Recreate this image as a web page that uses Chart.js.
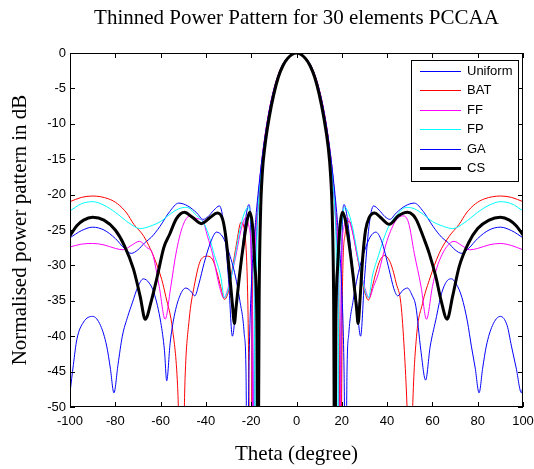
<!DOCTYPE html>
<html>
<head>
<meta charset="utf-8">
<script src="https://cdn.jsdelivr.net/npm/chart.js@4.4.1/dist/chart.umd.min.js"></script>
<style>
html,body{margin:0;padding:0;background:#fff;}
#c{display:block;}
</style>
</head>
<body>
<canvas id="c" width="534" height="469"></canvas>
<script>
const chartTitle = 'Thinned Power Pattern for 30 elements PCCAA';
const xTitle = 'Theta (degree)';
const yTitle = 'Normalised power pattern in dB';
const seriesNames = ['Uniform', 'BAT', 'FF', 'FP', 'GA', 'CS'];
const xTickValues = [-100, -80, -60, -40, -20, 0, 20, 40, 60, 80, 100];
const yTickValues = [0, -5, -10, -15, -20, -25, -30, -35, -40, -45, -50];

const uniformTheta = [-100,-95,-90,-85,-80,-76,-73,-70,-67,-64, -60.3,-56,-52,-48,-44,-41.2,-39,-36.5,-34,-32, -30,-28.3,-26.5,-24.5,-22.5,-21,-19.9,-19.2,-18.5,-17.5, -16,-14,-12,-10,-8,-6,-4,-2, 0, 2,4,6,8,10,12,14,16,17.5, 18.5,19.2,19.9,21,22.5,24.5,26.5,28.3,30,32, 34,36.5,39,41.2,44,48,52,56,60.3,64, 67,70,73,76,80,85,90,95,100];
const uniformDb = [-26.1,-25.1,-24.6,-25,-26.2,-27.6,-28.3,-27.8,-26.8,-26, -24.5,-22.4,-21.2,-21.6,-22.6,-23.5,-23.1,-22.2,-21.6,-24.5, -32,-40,-35,-29.5,-23.5,-21.4,-30,-65,-35,-25, -18,-12.3,-8.3,-5.3,-3.1,-1.6,-0.7,-0.2, 0, -0.2,-0.7,-1.6,-3.1,-5.3,-8.3,-12.3,-18,-25, -35,-65,-30,-21.4,-23.5,-29.5,-35,-40,-32,-24.5, -21.6,-22.2,-23.1,-23.5,-22.6,-21.6,-21.2,-22.4,-24.5,-26, -26.8,-27.8,-28.3,-27.6,-26.2,-25,-24.6,-25.1,-26.1];

const batTheta = [-100,-95,-90,-83,-79,-75,-71.8,-67.4,-63,-59.5, -57.7,-54.7,-52.5,-50.6,-49.2,-47.4,-45.2,-42.2,-39.3,-37, -35,-33.5,-31.8,-29.9,-28.2,-26.5,-24.5,-22.8,-21.5,-20.2, -19.4,-17.5,-16,-14,-12,-10,-8,-6,-4,-2, 0, 2,4,6,8,10,12,14,16,17.5, 18.6,19.5,20.3,21.5,23.3,25,26.9,28.5,29.9,31.8, 33.5,35,37,39,41,42.5,44,46.1,47.6,48.8, 50.2,51.4,53,55.6,58.6,63,67.4,71.8,75,79, 83,90,95,100];
const batDb = [-21.0,-20.4,-20.2,-20.6,-21.3,-22.6,-24.2,-25.9,-28.8,-32, -34.4,-39.1,-47,-65,-46,-37.7,-33,-29.2,-28.7,-29.2, -31.1,-33,-34.8,-33.5,-30.2,-27,-23.9,-25.5,-35,-65, -33,-23.5,-17.3,-11.9,-8.0,-5.1,-3.0,-1.6,-0.7,-0.2, 0, -0.2,-0.7,-1.6,-3.0,-5.1,-8.0,-11.9,-17.3,-23.5, -32,-65,-33,-25.5,-23.8,-25.6,-28.8,-31.5,-33.5,-34.9, -33,-31.1,-29.2,-28.6,-29.3,-30.6,-32.5,-35.4,-42,-50, -65,-49,-40,-35.4,-32.1,-28.3,-25.9,-24.2,-22.6,-21.3, -20.6,-20.2,-20.4,-21.0];

const ffTheta = [-100,-95,-90,-85,-80,-76.5,-73,-69.4,-66,-63.6, -60.6,-58,-55.5,-53.2,-50.3,-47,-44,-41.5,-39.3,-37.1, -34,-32.1,-30,-27,-24.5,-22.5,-21,-19.8,-19.1,-18.4, -17.3,-16,-14,-12,-10,-8,-6,-4,-2, 0, 2,4,6,8,10,12,14,16,17.3, 18.4,19.1,19.8,21,22.5,24.5,27,30,32.1,34, 36.2,38,40,42,44,47,49.5,52,55,57.4, 60,62,63.8,66,69.5,73,76.5,80,85,90, 95,100];
const ffDb = [-27.4,-27.0,-26.9,-27.1,-27.6,-27.8,-27.2,-26.6,-27.5,-28.3, -33,-37.6,-33,-28.3,-24.5,-23.0,-23.4,-23.6,-25.9,-28.3, -33,-34.6,-33,-29,-25,-23.3,-24.5,-31,-65,-31, -22.5,-17.3,-11.9,-8.0,-5.1,-3.0,-1.6,-0.7,-0.2, 0, -0.2,-0.7,-1.6,-3.0,-5.1,-8.0,-11.9,-17.3,-22.5, -31,-65,-31,-24.5,-23.3,-25,-29,-33,-34.6,-33, -31.1,-28.8,-26.5,-24.8,-23.6,-23.0,-24,-28.3,-33,-37.6, -33,-30.3,-28.8,-27.5,-26.6,-27.2,-27.8,-27.6,-27.1,-26.9, -27.2,-27.8];

const fpTheta = [-100,-95,-90,-85,-80,-74,-69,-65,-60,-56, -52,-48.5,-44,-41,-39,-36.2,-33.5,-31.8,-30.6,-29, -27,-25,-23,-21.3,-19.8,-18.7,-18.1,-17.6,-17,-16, -14,-12,-10,-8,-6,-4,-2, 0, 2,4,6,8,10,12,14,16,17, 17.6,18.1,18.7,19.8,21.3,23,25,27,29,30.6, 31.8,33.5,36.2,39,41,44,48.5,52,56,60, 65,69,74,80,85,90,95,100];
const fpDb = [-22.3,-21.3,-21.0,-21.5,-22.5,-24.0,-24.8,-24.5,-23.8,-22.8, -22.0,-21.8,-23.0,-24.0,-25.5,-28.6,-31.5,-34.6,-33.9,-32, -28.5,-25,-22.6,-21.8,-24.5,-33,-65,-30,-22.5,-17.8, -12.3,-8.3,-5.3,-3.1,-1.6,-0.7,-0.2, 0, -0.2,-0.7,-1.6,-3.1,-5.3,-8.3,-12.3,-17.8,-22.5, -30,-65,-33,-24.5,-21.8,-22.6,-25,-28.5,-32,-33.9, -34.6,-31.5,-28.6,-25.8,-24.3,-23.0,-21.8,-22.0,-22.8,-23.8, -24.5,-24.8,-24.0,-22.5,-21.5,-21.0,-21.3,-22.3];

const gaTheta = [-100,-98.5,-97,-94,-90,-86.5,-83.8,-82.2,-80.6,-78.8, -76.9,-74.5,-72.5,-70,-67.6,-65,-62.9,-59.9,-58.3,-57.3, -55.8,-54,-51.5,-48.9,-46.8,-44.9,-43,-40.8,-38,-35.3, -32.5,-30,-27,-25,-23.1,-22.3,-21.7,-21,-19.8,-18, -16,-14,-12,-10,-8,-6,-4,-2, 0, 2,4,6,8,10,12,14,16,18,19.8, 21,21.7,22.3,23.1,25,27,30,32.5,35,37.5, 40.9,43,44.7,47,49,51,52.7,54.9,57,59, 61.5,64,66.7,68.4,70.5,73,75.5,77.2,78.9,80.6, 82.2,83.8,86.5,90,93,94.9,97,99.3,100];
const gaDb = [-48,-44,-40.5,-38,-37.2,-38.5,-41.4,-44.5,-48,-44, -40,-37.2,-35.3,-33,-31.9,-32.5,-33.9,-38.1,-42,-46.3, -41,-37.2,-34.3,-33.2,-33.6,-34.3,-32.5,-29.7,-26.8,-25.3, -26,-28,-31.5,-35,-39.6,-45,-65,-45,-32,-23.5, -17,-12,-8.1,-5.2,-3.1,-1.6,-0.7,-0.2, 0, -0.2,-0.7,-1.6,-3.1,-5.2,-8.1,-12,-17,-23.5,-32, -45,-65,-45,-39.6,-35,-31.5,-28,-26,-25.3,-26.5, -30.6,-33.3,-34.3,-33.5,-33.2,-34.2,-35.8,-42,-46.2,-41.5, -37.7,-34,-32.1,-31.9,-32.6,-34.5,-38,-41.4,-44.5,-48, -44.5,-41.4,-38.5,-37.2,-38.5,-41.4,-44.5,-48,-47];

const csTheta = [-100,-97,-94,-90,-85,-80,-76,-72,-69,-66.8, -64,-61.5,-58.6,-56,-53,-49.5,-46,-42,-38,-35, -32.5,-31,-29.6,-28.3,-27.4,-26.7,-25.2,-23.2,-21.7,-20.6, -19.4,-18.4,-17.5,-17.0,-16.5,-15.9,-15.1,-14,-12,-10, -8,-6,-4,-2, 0, 2,4,6,8,10,12,14,15,15.8,16.4, 16.9,17.4,18.2,19.2,20.3,21.5,23,25,26.5,27.2, 28,29.2,30.5,32,34.5,37,41,45,49,51.5, 53,56,58.6,61.5,63.8,66.5,68.9,71.8,76,80, 85,90,94,97,100];
const csDb = [-25.8,-24.4,-23.6,-23.2,-23.6,-25.0,-27.2,-30.5,-34.4,-37.6, -34.9,-31.6,-27.5,-25.6,-23.4,-22.5,-23.2,-24.1,-23.2,-22.6, -23.6,-26.5,-31,-35.5,-38.2,-36,-31.5,-26.5,-23.5,-22.5, -24.5,-30,-38,-65,-35,-23,-17,-13.3,-9.0,-5.8, -3.4,-1.8,-0.8,-0.2, 0, -0.2,-0.8,-1.8,-3.4,-5.8,-9.0,-13.3,-17,-23,-35, -65,-38,-30,-24.5,-22.5,-23.5,-26.5,-31.5,-36,-38.2, -35,-29,-25,-23.3,-22.6,-23.2,-24.2,-23,-22.5,-22.9, -23.6,-26,-28.3,-31.6,-34.9,-37.6,-34.4,-30.2,-26.8,-24.8, -23.6,-23.2,-23.6,-24.4,-25.7];

const seriesTheta = [uniformTheta, batTheta, ffTheta, fpTheta, gaTheta, csTheta];
const seriesDb = [uniformDb, batDb, ffDb, fpDb, gaDb, csDb];
const seriesColors = ['#0000ff', '#ff0000', '#ff00ff', '#00ffff', '#0000ff', '#000000'];
const seriesWidths = [1, 1, 1, 1, 1, 3];

const SERIF = '"Liberation Serif", "Times New Roman", Times, serif';
const SANS = '"Liberation Sans", Arial, Helvetica, sans-serif';

const datasets = seriesNames.map((name, i) => ({
  label: name,
  data: seriesTheta[i].map((t, k) => ({ x: t, y: seriesDb[i][k] })),
  borderColor: seriesColors[i],
  backgroundColor: seriesColors[i],
  borderWidth: seriesWidths[i],
  pointRadius: 0,
  pointHoverRadius: 0,
  fill: false,
  cubicInterpolationMode: 'monotone',
  order: seriesNames.length - i
}));

const framePlugin = {
  id: 'frameAndLegend',
  afterDatasetsDraw(chart) {
    const { ctx, chartArea: ca, scales } = chart;
    const xs = scales.x, ys = scales.y;
    ctx.save();
    // title centred over the axes
    ctx.fillStyle = '#000';
    ctx.font = '21px ' + SERIF;
    ctx.textAlign = 'center';
    ctx.textBaseline = 'middle';
    ctx.fillText(chartTitle, (ca.left + ca.right) / 2, 18);

    // axes box
    ctx.strokeStyle = '#000';
    ctx.lineWidth = 1;
    ctx.strokeRect(Math.round(ca.left) + 0.5, Math.round(ca.top) + 0.5,
                   Math.round(ca.width) - 1, Math.round(ca.height) - 1);
    // inward ticks
    const tl = 5;
    ctx.beginPath();
    xs.ticks.forEach(t => {
      const px = Math.round(xs.getPixelForValue(t.value)) + 0.5;
      ctx.moveTo(px, ca.bottom); ctx.lineTo(px, ca.bottom - tl);
      ctx.moveTo(px, ca.top); ctx.lineTo(px, ca.top + tl);
    });
    ys.ticks.forEach(t => {
      const py = Math.round(ys.getPixelForValue(t.value)) + 0.5;
      ctx.moveTo(ca.left, py); ctx.lineTo(ca.left + tl, py);
      ctx.moveTo(ca.right, py); ctx.lineTo(ca.right - tl, py);
    });
    ctx.stroke();

    // legend box
    const bw = 107, bh = 121;
    const bx = Math.round(ca.right) - 5 - bw;
    const by = Math.round(ca.top) + 7;
    ctx.fillStyle = '#fff';
    ctx.fillRect(bx, by, bw, bh);
    ctx.strokeStyle = '#000';
    ctx.lineWidth = 1;
    ctx.strokeRect(bx + 0.5, by + 0.5, bw, bh);
    ctx.font = '13px ' + SANS;
    ctx.textBaseline = 'middle';
    ctx.textAlign = 'left';
    chart.data.datasets.forEach((ds, i) => {
      const ry = Math.round(by + 11 + i * 19.45);
      const off = ds.borderWidth % 2 === 1 ? 0.5 : 0;
      ctx.beginPath();
      ctx.strokeStyle = ds.borderColor;
      ctx.lineWidth = ds.borderWidth;
      ctx.moveTo(bx + 9, ry + off);
      ctx.lineTo(bx + 50, ry + off);
      ctx.stroke();
      ctx.fillStyle = '#000';
      ctx.fillText(ds.label, bx + 56, ry + 0.5);
    });
    ctx.restore();
  }
};

new Chart(document.getElementById('c'), {
  type: 'line',
  data: { datasets },
  options: {
    responsive: false,
    animation: false,
    devicePixelRatio: 1,
    layout: { padding: { left: 0, right: 11, top: 53, bottom: 0 } },
    plugins: {
      legend: { display: false },
      tooltip: { enabled: false },
      title: { display: false }
    },
    scales: {
      x: {
        type: 'linear',
        min: -100,
        max: 100,
        afterBuildTicks: s => { s.ticks = xTickValues.map(v => ({ value: v })); },
        afterFit: s => { s.height = 62; s.paddingLeft = 0; s.paddingRight = 0; },
        grid: { display: false, drawTicks: false },
        border: { display: false },
        ticks: { color: '#000', font: { family: SANS, size: 13 }, padding: 6.5, maxRotation: 0, autoSkip: false },
        title: { display: true, text: xTitle, color: '#000', font: { family: SERIF, size: 21 }, padding: { top: 0, bottom: 1.5 } }
      },
      y: {
        type: 'linear',
        min: -50,
        max: 0,
        afterBuildTicks: s => { s.ticks = yTickValues.map(v => ({ value: v })); },
        afterFit: s => { s.width = 70; s.paddingTop = 0; s.paddingBottom = 0; },
        grid: { display: false, drawTicks: false },
        border: { display: false },
        ticks: { color: '#000', font: { family: SANS, size: 13 }, padding: 4, autoSkip: false },
        title: { display: true, text: yTitle, color: '#000', font: { family: SERIF, size: 21 }, padding: { top: 7.5, bottom: 0 } }
      }
    }
  },
  plugins: [framePlugin]
});
</script>
</body>
</html>
